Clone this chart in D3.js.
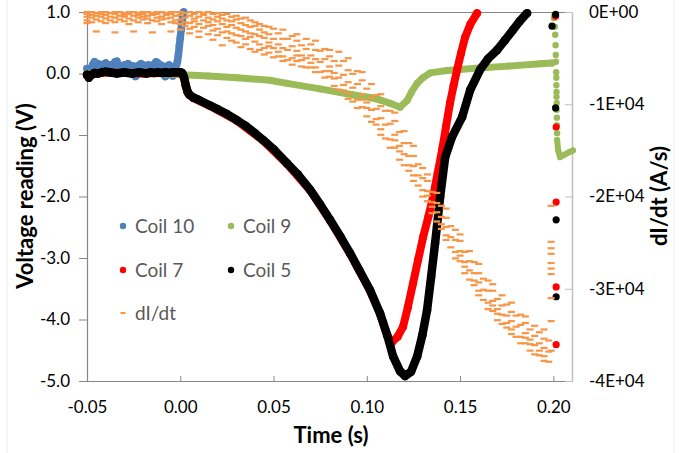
<!DOCTYPE html>
<html><head><meta charset="utf-8">
<script src="https://cdn.jsdelivr.net/npm/d3@7"></script>
<style>
html,body{margin:0;padding:0;background:#fff;}
svg{display:block;}
text{font-family:Lato,"Open Sans",sans-serif;}
</style></head>
<body><svg id="c" width="690" height="453"></svg>
<script>
// ---------- DATA ----------
const xTicks = [-0.05, 0.00, 0.05, 0.10, 0.15, 0.20];
const yTicks = [-5, -4, -3, -2, -1, 0, 1];
const y2Ticks = [-40, -30, -20, -10, 0];          // kA/s  (shown as E+04 A/s)
const legendNames = ["Coil 10", "Coil 9", "Coil 7", "Coil 5", "dI/dt"];

// Coil 10 [time s, voltage V]
const coil10 = [[-0.050,0.08],[-0.049,-0.06],[-0.048,0.06],[-0.047,0.14],[-0.046,0.19],[-0.045,0.10],[-0.044,0.16],[-0.043,0.12],[-0.042,0.08],[-0.041,0.15],[-0.040,0.17],[-0.039,0.11],[-0.038,0.14],[-0.037,0.09],[-0.036,0.13],[-0.035,0.19],[-0.034,0.20],[-0.033,0.10],[-0.032,0.06],[-0.031,0.12],[-0.030,0.14],[-0.029,0.08],[-0.028,0.16],[-0.027,0.13],[-0.026,0.09],[-0.025,0.12],[-0.024,-0.05],[-0.023,-0.02],[-0.022,0.14],[-0.021,0.16],[-0.020,0.11],[-0.019,0.13],[-0.018,0.09],[-0.017,0.14],[-0.016,0.12],[-0.015,0.08],[-0.014,0.15],[-0.013,0.19],[-0.012,0.17],[-0.011,0.10],[-0.010,0.13],[-0.009,0.08],[-0.008,-0.05],[-0.007,0.12],[-0.006,0.14],[-0.005,0.11],[-0.004,-0.04],[-0.003,0.08],[-0.002,0.14],[-0.0015,0.20],[-0.001,0.30],[-0.0005,0.45],[0.000,0.58],[0.0005,0.72],[0.001,0.85],[0.0015,0.96],[0.0018,1.00]];

// Coil 9
const coil9 = [[-0.050,0.00],[-0.040,0.01],[-0.030,0.00],[-0.020,0.01],[-0.010,0.00],[0.0015,-0.02],[0.015,-0.04],[0.0304,-0.07],[0.048,-0.11],[0.0572,-0.16],[0.075,-0.25],[0.093,-0.35],[0.1017,-0.39],[0.107,-0.43],[0.113,-0.49],[0.1178,-0.55],[0.1216,-0.44],[0.124,-0.30],[0.127,-0.16],[0.130,-0.07],[0.134,0.01],[0.143,0.05],[0.160,0.09],[0.176,0.12],[0.193,0.16],[0.1993,0.17]];
const coil9Spike = [[0.2005,0.95],[0.2003,0.90],[0.2008,0.76],[0.2010,0.63],[0.2012,0.46],[0.2013,0.30],[0.2014,0.19],[0.2015,0.02],[0.2016,-0.07],[0.2016,-0.19],[0.2017,-0.30],[0.2017,-0.38],[0.2018,-0.48],[0.2018,-0.59],[0.2019,-0.72],[0.2019,-0.84],[0.2020,-0.97]];
const coil9Tail = [[0.2020,-1.08],[0.2026,-1.25],[0.2036,-1.36],[0.2060,-1.32],[0.2085,-1.28],[0.2105,-1.25]];

// Coil 7
const coil7 = [[-0.050,-0.03],[-0.040,0.02],[-0.030,0.01],[-0.020,0.00],[-0.010,0.01],[0.000,0.01],[0.002,-0.07],[0.003,-0.21],[0.004,-0.31],[0.007,-0.40],[0.016,-0.53],[0.0304,-0.77],[0.0444,-1.09],[0.0572,-1.47],[0.0696,-1.90],[0.0803,-2.39],[0.091,-2.93],[0.1017,-3.53],[0.1071,-3.91],[0.1109,-4.26],[0.1135,-4.37],[0.1165,-4.28],[0.1194,-4.12],[0.122,-3.80],[0.1248,-3.41],[0.1275,-3.03],[0.1302,-2.66],[0.133,-2.33],[0.1355,-2.01],[0.138,-1.62],[0.1404,-1.24],[0.1425,-0.86],[0.1446,-0.48],[0.1465,-0.20],[0.1484,0.06],[0.1505,0.33],[0.1527,0.59],[0.1555,0.80],[0.1591,0.98]];
const coil7Late = [[0.2012,0.93],[0.2015,-0.87],[0.2015,-2.09],[0.2015,-3.47],[0.2015,-4.41]];

// Coil 5
const coil5 = [[-0.050,-0.02],[-0.049,-0.07],[-0.048,-0.03],[-0.046,0.01],[-0.044,0.00],[-0.042,0.02],[-0.040,0.03],[-0.038,0.02],[-0.036,0.01],[-0.034,0.00],[-0.032,0.01],[-0.030,0.02],[-0.028,0.01],[-0.026,0.00],[-0.024,0.01],[-0.022,0.02],[-0.020,0.01],[-0.018,0.00],[-0.016,0.02],[-0.014,0.01],[-0.012,0.02],[-0.010,0.01],[-0.008,0.02],[-0.006,0.01],[-0.004,0.02],[-0.002,0.02],[0.000,0.02],[0.001,0.01],[0.002,-0.06],[0.003,-0.20],[0.004,-0.30],[0.005,-0.35],[0.007,-0.39],[0.010,-0.43],[0.016,-0.52],[0.020,-0.58],[0.025,-0.66],[0.0304,-0.76],[0.035,-0.85],[0.040,-0.97],[0.0444,-1.08],[0.050,-1.23],[0.0572,-1.46],[0.063,-1.64],[0.0696,-1.89],[0.075,-2.13],[0.0803,-2.38],[0.086,-2.66],[0.091,-2.92],[0.096,-3.20],[0.1017,-3.52],[0.1071,-3.90],[0.1109,-4.25],[0.1141,-4.60],[0.1178,-4.84],[0.1205,-4.92],[0.1237,-4.85],[0.127,-4.60],[0.1298,-4.25],[0.1323,-3.85],[0.1345,-3.30],[0.1366,-2.76],[0.1393,-2.01],[0.142,-1.36],[0.1457,-1.03],[0.1511,-0.71],[0.1554,-0.27],[0.1607,0.06],[0.1650,0.24],[0.1698,0.38],[0.1740,0.54],[0.1784,0.71],[0.1820,0.85],[0.1859,0.98]];
const coil5Late = [[0.2012,0.96],[0.1993,0.77],[0.2012,-0.56],[0.2015,-2.38],[0.2015,-3.63]];

// dI/dt [time s, [values kA/s]]
const dIdt = [
[-0.0500,[0,-0.2,-0.5,-0.9,-1.2]],[-0.0475,[0,-0.3,-0.6,-1.1]],[-0.0450,[-0.1,-0.4,-0.8,-2.1]],[-0.0425,[0,-0.2,-0.5,-1.0]],
[-0.0400,[0,-0.3,-0.7,-1.2]],[-0.0375,[-0.1,-0.5,-0.9]],[-0.0350,[0,-0.2,-0.6,-1.1,-2.2]],[-0.0325,[0,-0.4,-0.8]],
[-0.0300,[-0.1,-0.3,-0.5,-1.0]],[-0.0275,[0,-0.2,-0.7,-1.3]],[-0.0250,[0,-0.4,-0.9,-2.1]],[-0.0225,[-0.1,-0.3,-0.6,-1.1]],
[-0.0200,[0,-0.2,-0.5,-0.8]],[-0.0175,[0,-0.4,-0.7,-1.2]],[-0.0150,[-0.1,-0.3,-0.9,-2.2]],[-0.0125,[0,-0.2,-0.6,-1.0]],
[-0.0100,[0,-0.5,-0.8,-1.3]],[-0.0075,[-0.1,-0.3,-0.7]],[-0.0050,[0,-0.2,-0.6,-1.1,-2.1]],[-0.0025,[0,-0.4,-0.9,-1.2]],
[0.0000,[0,-0.3,-0.8,-1.3,-1.9]],[0.0025,[-0.1,-0.6,-1.1,-1.5]],[0.0050,[0,-0.4,-1.2,-1.8,-2.3]],[0.0075,[-0.2,-0.7,-1.0,-1.6]],
[0.0100,[0,-0.5,-1.3,-2.1,-2.7]],[0.0125,[-0.1,-0.3,-0.9,-1.7]],[0.0150,[0,-0.6,-1.1,-1.5,-2.4]],[0.0175,[-0.2,-0.8,-1.4,-2.0,-3.0]],
[0.0200,[-0.1,-0.5,-1.0,-1.8,-2.5]],[0.0225,[-0.3,-0.7,-1.3,-2.2,-3.6]],[0.0250,[-0.2,-0.9,-1.6,-2.1,-2.8]],[0.0275,[-0.5,-1.0,-1.4,-2.3,-3.1]],
[0.0300,[-0.4,-0.8,-1.7,-2.5,-3.3]],[0.0325,[-0.7,-1.2,-1.9,-2.6,-3.8]],[0.0350,[-0.6,-1.4,-2.1,-2.9,-3.5]],[0.0375,[-0.9,-1.6,-2.3,-2.7,-4.0]],
[0.0400,[-1.1,-1.5,-2.4,-3.2,-4.3]],[0.0425,[-1.3,-1.9,-2.6,-3.5,-4.1]],[0.0450,[-1.5,-2.2,-2.8,-3.9,-4.6]],[0.0475,[-1.6,-2.4,-3.3,-3.7,-4.4]],
[0.0500,[-1.8,-2.9,-3.9,-4.9]],[0.0525,[-2.3,-3.5,-4.3,-4.8]],[0.0550,[-1.9,-2.9,-3.9,-4.8,-5.3]],[0.0575,[-2.9,-4.1,-5.2]],
[0.0600,[-2.6,-3.7,-5.0,-5.7]],[0.0625,[-2.4,-3.1,-4.2,-4.7,-5.3]],[0.0650,[-3.6,-4.7,-5.2,-5.9]],[0.0675,[-2.9,-4.0,-5.0,-6.0]],
[0.0700,[-3.5,-4.7,-5.5,-6.0]],[0.0725,[-3.1,-4.1,-5.1,-6.0,-6.5]],[0.0750,[-4.2,-5.4,-6.5]],[0.0775,[-4.0,-5.1,-6.4,-7.1]],
[0.0800,[-4.1,-4.8,-5.9,-6.4,-7.0]],[0.0825,[-5.3,-6.6,-7.2,-8.0]],[0.0850,[-4.3,-5.8,-7.1,-8.4]],[0.0875,[-5.3,-6.8,-7.9,-8.5]],
[0.0900,[-5.0,-6.3,-7.6,-8.8,-9.4]],[0.0925,[-6.7,-8.2,-9.7]],[0.0950,[-6.4,-7.8,-9.5,-10.4]],[0.0975,[-6.5,-7.4,-8.9,-9.5,-10.3]],
[0.1000,[-8.3,-9.8,-10.4,-11.3]],[0.1025,[-7.8,-9.3,-10.6,-11.9]],[0.1050,[-9.0,-10.5,-11.6,-12.2]],[0.1075,[-8.9,-10.2,-11.5,-12.7,-13.3]],
[0.1100,[-10.7,-12.2,-13.7]],[0.1125,[-10.7,-12.1,-13.8,-14.7]],[0.1150,[-10.9,-11.8,-13.3,-13.9,-14.7]],[0.1175,[-13.0,-14.5,-15.1,-16.0]],
[0.1200,[-12.9,-14.2,-15.4,-16.6]],[0.1225,[-14.2,-15.6,-16.6,-17.2]],[0.1250,[-14.5,-15.6,-16.7,-17.7,-18.3]],[0.1275,[-16.5,-17.7,-18.8]],
[0.1300,[-16.9,-18.0,-19.3,-20.0]],[0.1325,[-17.6,-18.3,-19.4,-19.9,-20.5]],[0.1350,[-19.5,-20.6,-21.1,-21.8]],[0.1375,[-19.6,-20.7,-21.7,-22.7]],
[0.1400,[-21.0,-22.2,-23.0,-23.5]],[0.1425,[-21.3,-22.3,-23.3,-24.2,-24.7]],[0.1450,[-23.2,-24.4,-25.5]],[0.1475,[-23.6,-24.7,-26.0,-26.7]],
[0.1500,[-24.1,-24.8,-25.9,-26.4,-27.0]],[0.1525,[-26.0,-27.1,-27.6,-28.3]],[0.1550,[-25.9,-27.0,-28.0,-29.0]],[0.1575,[-27.1,-28.3,-29.1,-29.6]],
[0.1600,[-27.3,-28.3,-29.3,-30.2,-30.7]],[0.1625,[-28.9,-30.1,-31.2]],[0.1650,[-29.1,-30.2,-31.5,-32.2]],[0.1675,[-29.5,-30.2,-31.3,-31.8,-32.4]],
[0.1700,[-31.1,-32.2,-32.7,-33.4]],[0.1725,[-30.7,-31.8,-32.8,-33.8]],[0.1750,[-31.7,-32.9,-33.7,-34.2]],[0.1775,[-31.5,-32.5,-33.5,-34.4,-34.9]],
[0.1800,[-32.9,-34.1,-35.2]],[0.1825,[-32.8,-33.9,-35.2,-35.9]],[0.1850,[-33.0,-33.7,-34.8,-35.3,-35.9]],[0.1875,[-34.4,-35.5,-36.0,-36.7]],
[0.1900,[-34.0,-35.1,-36.1,-37.1]],[0.1925,[-34.7,-35.9,-36.7,-37.2]],[0.1950,[-34.4,-35.4,-36.4,-37.3,-37.8]],[0.1975,[-35.6,-36.8,-37.9]],
[0.1988,[-21.0,-24.9,-25.6,-26.2,-27.2,-27.8,-28.4,-31.0,-33.5,-36.7]]
];

// ---------- DRAW ----------
const svg = d3.select("#c");
const W = 690, H = 453;
const m = {l:87, r:572, t:12, b:381};
const x = d3.scaleLinear().domain([-0.05, 0.21]).range([m.l, m.r]);
const y = d3.scaleLinear().domain([-5, 1]).range([m.b, m.t]);
const y2 = d3.scaleLinear().domain([-40, 0]).range([m.b, m.t]);

const col = {c10:"#4F81BD", c9:"#9BBB59", c7:"#FF0000", c5:"#000000", d:"#F79646"};

// faint chart border
svg.append("line").attr("x1",7).attr("x2",7).attr("y1",0).attr("y2",H).attr("stroke","#ececec");
svg.append("line").attr("x1",674).attr("x2",674).attr("y1",0).attr("y2",H).attr("stroke","#ececec");

// top frame line
svg.append("line").attr("x1",m.l).attr("x2",m.r).attr("y1",m.t+0.5).attr("y2",m.t+0.5).attr("stroke","#868686");

const fmtY = d => d.toFixed(1);
const fmtX = d => d.toFixed(2);
const fmtY2 = d => d === 0 ? "0E+00" : (d/10) + "E+04";

const gL = svg.append("g").attr("transform",`translate(${m.l},0)`)
  .call(d3.axisLeft(y).tickValues(yTicks).tickFormat(fmtY).tickSize(8).tickPadding(9));
const gB = svg.append("g").attr("transform",`translate(0,${m.b})`)
  .call(d3.axisBottom(x).tickValues(xTicks).tickFormat(fmtX).tickSizeInner(-5).tickSizeOuter(0).tickPadding(20));
const gR = svg.append("g").attr("transform",`translate(${m.r},0)`)
  .call(d3.axisRight(y2).tickValues(y2Ticks).tickFormat(fmtY2).tickSizeInner(-7).tickSizeOuter(0).tickPadding(17));

[gL,gB].forEach(g=>{
  g.select(".domain").attr("stroke","#868686").attr("stroke-width",1.2);
  g.selectAll(".tick line").attr("stroke","#868686");
});
gR.select(".domain").attr("stroke","#bfbfbf").attr("stroke-width",1.5);
gR.selectAll(".tick line").attr("stroke","#bfbfbf");
[gL,gB,gR].forEach(g=>g.selectAll(".tick text").attr("font-size",17).attr("fill","#000").attr("font-family","Lato"));

// series helpers
const line = d3.line().x(d=>x(d[0])).y(d=>y(d[1]));
function curve(data, color, w){
  svg.append("path").datum(data).attr("d",line).attr("fill","none")
    .attr("stroke",color).attr("stroke-width",w).attr("stroke-linejoin","round").attr("stroke-linecap","round");
  svg.append("g").selectAll("circle").data(data).join("circle")
    .attr("cx",d=>x(d[0])).attr("cy",d=>y(d[1])).attr("r",w/2).attr("fill",color);
}
function dots(data, color, r){
  svg.append("g").selectAll("circle").data(data).join("circle")
    .attr("cx",d=>x(d[0])).attr("cy",d=>y(d[1])).attr("r",r).attr("fill",color);
}

curve(coil10, col.c10, 7.5);
curve(coil9, col.c9, 7);
dots(coil9Spike, col.c9, 3.2);
curve(coil9Tail, col.c9, 6);
curve(coil7, col.c7, 8);
dots(coil7Late, col.c7, 3.6);
curve(coil5, col.c5, 8.5);
dots(coil5Late, col.c5, 3.6);

// dI/dt dashes
const dPts = dIdt.flatMap(([t, vals]) => vals.map(v => [t, v]));
svg.append("g").selectAll("rect").data(dPts).join("rect")
  .attr("x",d=>x(d[0])-3.5).attr("y",d=>y2(d[1])-1).attr("width",7).attr("height",2.2)
  .attr("fill",col.d);

// legend
const leg = [
  {n:legendNames[0], c:col.c10, x:123, y:226, t:"dot"},
  {n:legendNames[1], c:col.c9,  x:231, y:226, t:"dot"},
  {n:legendNames[2], c:col.c7,  x:123, y:270, t:"dot"},
  {n:legendNames[3], c:col.c5,  x:231, y:270, t:"dot"},
  {n:legendNames[4], c:col.d,   x:123, y:313, t:"dash"}
];
const lg = svg.append("g");
leg.forEach(e=>{
  if(e.t==="dot") lg.append("circle").attr("cx",e.x).attr("cy",e.y).attr("r",3.2).attr("fill",e.c);
  else lg.append("rect").attr("x",e.x-2.5).attr("y",e.y-1).attr("width",5).attr("height",2).attr("fill",e.c);
  lg.append("text").attr("x",e.x+12).attr("y",e.y+6.5).attr("font-size",19).attr("fill","#595959").text(e.n);
});

// axis titles
svg.append("text").attr("transform","translate(33,196) rotate(-90)").attr("text-anchor","middle")
  .attr("font-size",22).attr("font-weight","bold").attr("fill","#000").text("Voltage reading (V)");
svg.append("text").attr("x",331).attr("y",443).attr("text-anchor","middle")
  .attr("font-size",22).attr("font-weight","bold").attr("fill","#000").text("Time (s)");
svg.append("text").attr("transform","translate(667,196) rotate(-90)").attr("text-anchor","middle")
  .attr("font-size",22).attr("font-weight","bold").attr("fill","#000").text("dI/dt (A/s)");
</script>
</body></html>
